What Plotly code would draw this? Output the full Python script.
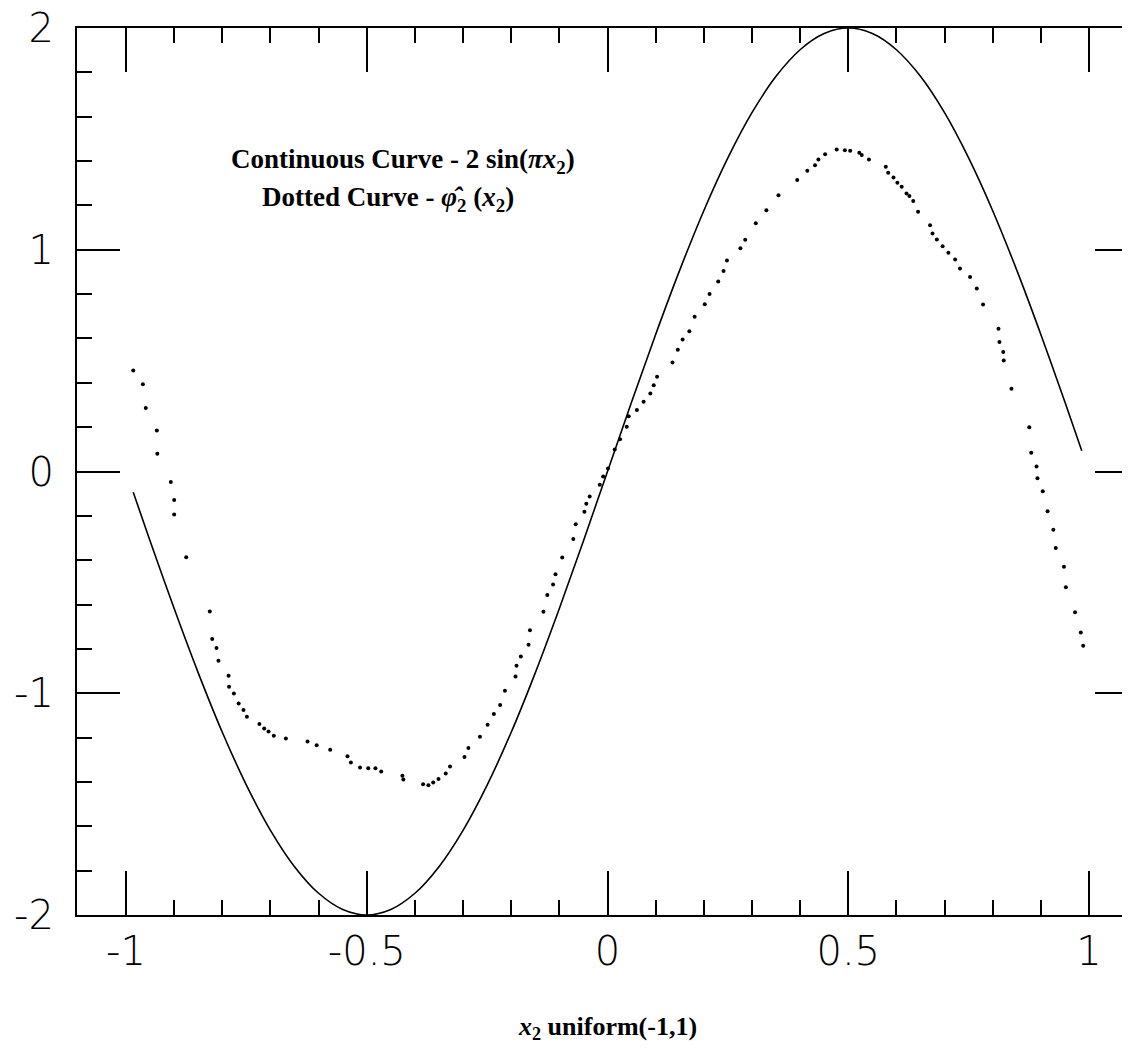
import plotly.graph_objects as go

# Continuous curve 2 sin(pi x2)
curve_x = [-0.985, -0.95, -0.9, -0.85, -0.8, -0.75, -0.7, -0.65, -0.6, -0.55, -0.5,
           -0.45, -0.4, -0.35, -0.3, -0.25, -0.2, -0.15, -0.1, -0.05, 0.0,
           0.05, 0.1, 0.15, 0.2, 0.25, 0.3, 0.35, 0.4, 0.45, 0.5,
           0.55, 0.6, 0.65, 0.7, 0.75, 0.8, 0.85, 0.9, 0.95, 0.985]
curve_y = [-0.094, -0.313, -0.618, -0.908, -1.176, -1.414, -1.618, -1.782, -1.902, -1.975, -2.0,
           -1.975, -1.902, -1.782, -1.618, -1.414, -1.176, -0.908, -0.618, -0.313, 0.0,
           0.313, 0.618, 0.908, 1.176, 1.414, 1.618, 1.782, 1.902, 1.975, 2.0,
           1.975, 1.902, 1.782, 1.618, 1.414, 1.176, 0.908, 0.618, 0.313, 0.094]

# Dotted curve phi_hat_2(x2)
dots_x = [-0.985, -0.965, -0.959, -0.936, -0.935, -0.907, -0.900, -0.900, -0.875, -0.826,
          -0.821, -0.812, -0.808, -0.787, -0.786, -0.776, -0.766, -0.756, -0.749, -0.723,
          -0.713, -0.704, -0.693, -0.668, -0.623, -0.604, -0.576, -0.540, -0.533, -0.514,
          -0.497, -0.482, -0.470, -0.426, -0.424, -0.383, -0.372, -0.362, -0.351, -0.336,
          -0.327, -0.297, -0.289, -0.265, -0.249, -0.236, -0.223, -0.213, -0.191, -0.189,
          -0.180, -0.164, -0.161, -0.133, -0.125, -0.113, -0.108, -0.094, -0.071, -0.066,
          -0.048, -0.044, -0.037, -0.016, -0.009, 0.001, 0.015, 0.026, 0.040, 0.044,
          0.061, 0.075, 0.089, 0.096, 0.103, 0.135, 0.146, 0.156, 0.170, 0.181,
          0.202, 0.212, 0.230, 0.241, 0.248, 0.276, 0.286, 0.308, 0.330, 0.355,
          0.394, 0.415, 0.431, 0.438, 0.452, 0.476, 0.493, 0.504, 0.523, 0.528,
          0.543, 0.578, 0.583, 0.594, 0.602, 0.611, 0.621, 0.627, 0.635, 0.645,
          0.670, 0.675, 0.684, 0.696, 0.708, 0.722, 0.732, 0.753, 0.767, 0.780,
          0.812, 0.814, 0.822, 0.823, 0.839, 0.876, 0.880, 0.891, 0.893, 0.904,
          0.914, 0.926, 0.931, 0.948, 0.952, 0.971, 0.983, 0.988]
dots_y = [0.456, 0.393, 0.286, 0.185, 0.080, -0.047, -0.128, -0.194, -0.387, -0.631,
          -0.755, -0.796, -0.853, -0.921, -0.971, -1.001, -1.046, -1.076, -1.106, -1.139,
          -1.159, -1.172, -1.192, -1.204, -1.218, -1.234, -1.255, -1.284, -1.312, -1.335,
          -1.338, -1.338, -1.353, -1.372, -1.389, -1.410, -1.415, -1.403, -1.387, -1.362,
          -1.330, -1.287, -1.247, -1.196, -1.142, -1.094, -1.053, -0.989, -0.924, -0.876,
          -0.834, -0.781, -0.716, -0.632, -0.557, -0.510, -0.463, -0.388, -0.304, -0.238,
          -0.182, -0.145, -0.113, -0.060, -0.023, 0.014, 0.099, 0.145, 0.202, 0.249,
          0.277, 0.314, 0.352, 0.389, 0.427, 0.492, 0.549, 0.595, 0.633, 0.698,
          0.754, 0.801, 0.857, 0.904, 0.951, 1.007, 1.045, 1.120, 1.178, 1.246,
          1.314, 1.356, 1.381, 1.407, 1.431, 1.452, 1.449, 1.446, 1.437, 1.427,
          1.407, 1.374, 1.347, 1.326, 1.302, 1.284, 1.254, 1.242, 1.220, 1.171,
          1.111, 1.073, 1.046, 1.016, 0.986, 0.956, 0.915, 0.877, 0.825, 0.753,
          0.644, 0.584, 0.539, 0.501, 0.373, 0.200, 0.084, 0.023, -0.030, -0.089,
          -0.179, -0.263, -0.345, -0.429, -0.522, -0.635, -0.726, -0.786]

x_tick_vals = [-1, -0.5, 0, 0.5, 1]
x_tick_text = ["-1", "-0.5", "0", "0.5", "1"]
y_tick_vals = [-2, -1, 0, 1, 2]
y_tick_text = ["-2", "-1", "0", "1", "2"]

tick_font = dict(family="DejaVu Sans, sans-serif", size=40, color="black", weight=300)
serif_bold = "Liberation Serif, DejaVu Serif, serif"

fig = go.Figure()
fig.add_trace(go.Scatter(x=curve_x, y=curve_y, mode="lines", line=dict(color="black", width=1.6, shape="spline"),
                         showlegend=False, hoverinfo="skip"))
fig.add_trace(go.Scatter(x=dots_x, y=dots_y, mode="markers", marker=dict(color="black", size=4),
                         showlegend=False, hoverinfo="skip"))

axis_common = dict(showgrid=False, zeroline=False, showline=True, linecolor="black", linewidth=2,
                   mirror="ticks", ticks="inside", tickcolor="black", tickwidth=1.5,
                   tickfont=tick_font, automargin=False, ticklabeloverflow="allow")

fig.update_xaxes(range=[-1.1018, 1.1018], tickmode="array", tickvals=x_tick_vals, ticktext=x_tick_text,
                 ticklen=44, ticklabelstandoff=0,
                 minor=dict(dtick=0.1, tick0=0, ticks="inside", ticklen=15, tickcolor="black", tickwidth=1.5, showgrid=False),
                 **axis_common)
fig.update_yaxes(range=[-2, 2], tickmode="array", tickvals=y_tick_vals, ticktext=y_tick_text,
                 ticklen=43, ticklabelstandoff=13,
                 minor=dict(dtick=0.2, tick0=0, ticks="inside", ticklen=15, tickcolor="black", tickwidth=1.5, showgrid=False),
                 **axis_common)

fig.add_annotation(x=-0.425, y=1.40, xref="x", yref="y", showarrow=False,
                   text="<b>Continuous Curve - 2 sin(<i>πx</i><sub>2</sub>)</b>",
                   font=dict(family=serif_bold, size=27, color="black"))
fig.add_annotation(x=-0.455, y=1.23, xref="x", yref="y", showarrow=False,
                   text="<b>Dotted Curve - <i>φ̂</i><sub>2</sub> (<i>x</i><sub>2</sub>)</b>",
                   font=dict(family=serif_bold, size=27, color="black"))
fig.add_annotation(x=0.0, y=-0.127, xref="x", yref="paper", showarrow=False, yanchor="middle",
                   text="<b><i>x</i><sub>2</sub> uniform(-1,1)</b>",
                   font=dict(family=serif_bold, size=26, color="black"))

fig.update_layout(width=1130, height=1050, margin=dict(l=69, r=0, t=20, b=143),
                  plot_bgcolor="white", paper_bgcolor="white")

fig.write_html("out.html")
